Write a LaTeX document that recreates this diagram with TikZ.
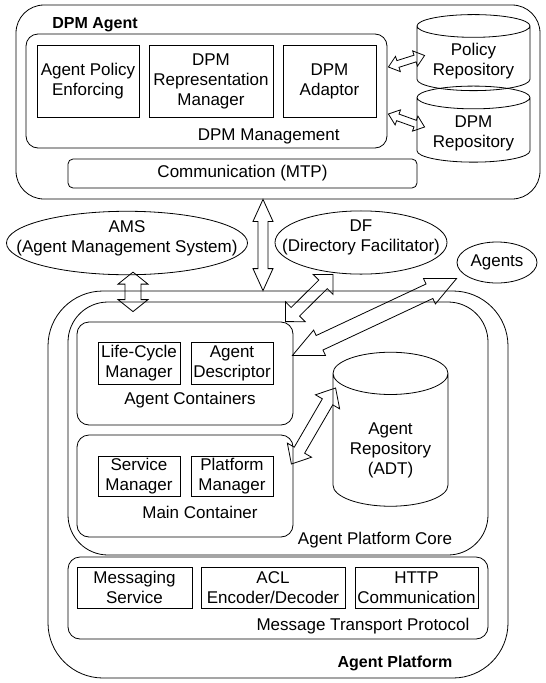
\documentclass[tikz,border=0pt]{standalone}
\usepackage{fontspec}
\setmainfont{Liberation Sans}
\usetikzlibrary{calc,shapes.geometric}
% hollow two-headed arrow: ends, shaft half width, head half width, head length
\newcommand\dblarrow[5]{
  \coordinate (arrA) at (#1);
  \coordinate (arrB) at (#2);
  \coordinate (hdA) at ($(arrA)!#5!(arrB)$);
  \coordinate (hdB) at ($(arrB)!#5!(arrA)$);
  \draw (arrA) -- ($(hdA)!#4!90:(arrB)$) -- ($(hdA)!#3!90:(arrB)$)
    -- ($(hdB)!#3!-90:(arrA)$) -- ($(hdB)!#4!-90:(arrA)$) -- (arrB)
    -- ($(hdB)!#4!90:(arrA)$) -- ($(hdB)!#3!90:(arrA)$)
    -- ($(hdA)!#3!-90:(arrB)$) -- ($(hdA)!#4!-90:(arrB)$) -- cycle;
}

\begin{document}
\begin{tikzpicture}[x=1pt,y=1pt,line width=0.8pt,
  every node/.style={font=\fontsize{17}{20}\selectfont,inner sep=0pt,align=center},
  frame/.style={draw,rounded corners=#1},
  part/.style={draw,minimum width=#1},
  store/.style={draw,cylinder,shape border rotate=90,aspect=#1},
  cloud/.style={draw,ellipse,inner xsep=#1},
  title/.style={font=\fontsize{16}{20}\selectfont\bfseries}]
  \useasboundingbox (0,0) rectangle (546,-683);

  % DPM agent
  \node [frame=28pt,minimum width=524pt,minimum height=194pt] (dpmagent) at (278,-102) {};
  \node [title,anchor=base west] (dpmagentlab) at (52,-28) {DPM Agent};
  \node [frame=12pt,minimum width=361pt,minimum height=114pt] (dpmmgmt) at (206.5,-91) {};
  \node [part=102pt,minimum height=72pt] (enforce) at (88,-81) {Agent Policy\\Enforcing};
  \node [part=124pt,minimum height=72pt] (repman) at (211,-81) {DPM\\Representation\\Manager};
  \node [part=93pt,minimum height=72pt] (adaptor) at (329.5,-81) {DPM\\Adaptor};
  \node [anchor=base east] (dpmmgmtlab) at (340,-140) {DPM Management};
  \node [frame=5pt,minimum width=349pt,minimum height=29pt] (comm) at (242.5,-173.5) {Communication (MTP)};
  \node [store=0.28,minimum width=113pt,minimum height=67pt,text height=38pt] (policyrep) at (473.5,-58.5) {Policy\\Repository};
  \node [store=0.28,minimum width=113pt,minimum height=66pt,text height=38pt] (dpmrep) at (473.5,-130) {DPM\\Repository};

  % services beside the platform
  \node [cloud=-27pt,minimum width=241pt,minimum height=60pt,text depth=13pt] (ams) at (127,-243) {AMS\\(Agent Management System)};
  \node [cloud=-19pt,minimum width=172pt,minimum height=59pt,text depth=13pt] (df) at (361,-242.5) {DF\\(Directory Facilitator)};
  \node [cloud=0pt,minimum width=80pt,minimum height=41pt] (agents) at (497,-262.5) {Agents};

  % agent platform
  \node [frame=55pt,minimum width=460pt,minimum height=387pt] (platform) at (278,-484.5) {};
  \node [title] (platformlab) at (395,-663) {Agent Platform};
  \node [frame=40pt,minimum width=420pt,minimum height=253pt] (core) at (278,-428.5) {};
  \node (corelab) at (375,-540) {Agent Platform Core};
  \node [frame=12pt,minimum width=216pt,minimum height=103pt] (agentcont) at (185,-373.5) {};
  \node [part=82pt,minimum height=42pt] (lifecycle) at (139,-363) {Life-Cycle\\Manager};
  \node [part=82pt,minimum height=42pt] (descriptor) at (232,-363) {Agent\\Descriptor};
  \node (agentcontlab) at (190,-400) {Agent Containers};
  \node [frame=12pt,minimum width=216pt,minimum height=102pt] (maincont) at (185,-486) {};
  \node [part=82pt,minimum height=40pt] (servman) at (139,-476) {Service\\Manager};
  \node [part=82pt,minimum height=40pt] (platman) at (232,-476) {Platform\\Manager};
  \node (maincontlab) at (200,-512) {Main Container};
  \node [store=0.52,minimum width=115pt,minimum height=154pt,text height=72pt] (agentrep) at (390.5,-440) {Agent\\Repository\\(ADT)};

  \node [frame=12pt,minimum width=420pt,minimum height=82pt] (mtp) at (278,-598) {};
  \node [part=115pt,minimum height=41pt] (messaging) at (134.5,-587.5) {Messaging\\Service};
  \node [part=144pt,minimum height=41pt] (acl) at (273,-587.5) {ACL\\Encoder/Decoder};
  \node [part=123pt,minimum height=41pt] (http) at (416.5,-587.5) {HTTP\\Communication};
  \node (mtplab) at (363,-626) {Message Transport Protocol};

  % arrows
  \dblarrow{$(dpmmgmt.east)+(1,24)$}{$(policyrep.west)+(8,3)$}{3.5pt}{8pt}{10pt}
  \dblarrow{$(dpmmgmt.east)+(1,-23)$}{$(dpmrep.west)+(8,3)$}{3.5pt}{8pt}{10pt}
  \dblarrow{$(dpmagent.south)+(-15,0)$}{$(platform.north)+(-15,0)$}{5pt}{10pt}{22pt}
  \dblarrow{$(ams.south)+(6,3)$}{$(ams.south |- core.north)+(6,-10)$}{8pt}{15pt}{12pt}
  \dblarrow{$(df.south)+(-28,0)$}{$(agentcont.north east)+(-8,0)$}{6pt}{14pt}{14pt}
  \dblarrow{$(agents.west)+(0,-16)$}{$(agentcont.east)+(-1,18)$}{8pt}{14pt}{30pt}
  \dblarrow{$(maincont.east)+(-2,22)$}{$(agentrep.west)+(3,52)$}{6pt}{14pt}{16pt}
\end{tikzpicture}
\end{document}
